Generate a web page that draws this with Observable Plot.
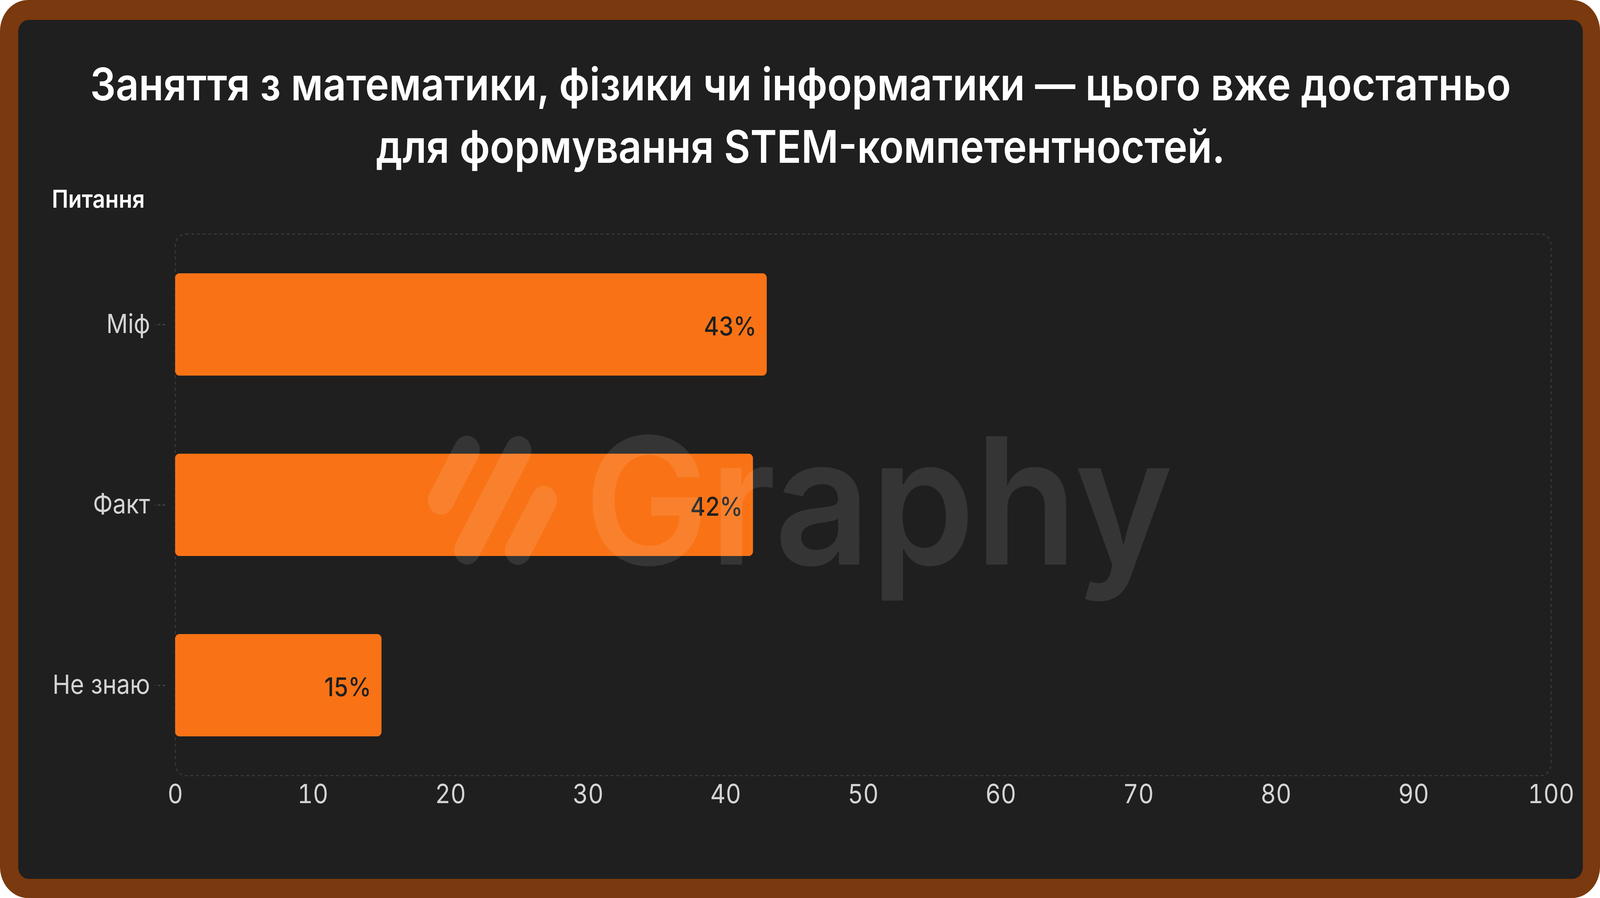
<!DOCTYPE html>
<html>
<head>
<meta charset="utf-8">
<script src="https://cdn.jsdelivr.net/npm/d3@7"></script>
<script src="https://cdn.jsdelivr.net/npm/@observablehq/plot@0.6"></script>
<style>
  html, body { margin: 0; padding: 0; background: #ffffff; overflow: hidden; }
  #page { position: absolute; left: 0; top: 0; width: 4568px; height: 2300px; background: #7A390F; border-radius: 80px; overflow: hidden; font-family: Inter, "Noto Sans", sans-serif; transform-origin: 0 0; }
  #panel { position: absolute; left: 52px; top: 51px; width: 4467px; height: 2200px; background: #1F1F1F; border-radius: 30px; }
  #title { position: absolute; left: 52px; width: 4467px; top: 136px; text-align: center; color: #ffffff; font-size: 115px; line-height: 160px; font-weight: 600; }
  #ylabel { position: absolute; left: 148px; top: 469px; color: #ffffff; font-size: 63px; font-weight: 600; line-height: 80px; }
  #chart { position: absolute; left: 0; top: 560px; }
  #wm { position: absolute; left: 0; top: 0; pointer-events: none; }
</style>
</head>
<body>
<div id="page">
  <div id="panel"></div>
  <div id="title">Заняття з математики, фізики чи інформатики — цього вже достатньо<br>для формування STEM-компетентностей.</div>
  <div id="ylabel">Питання</div>
  <div id="chart"></div>
  <svg id="wm" width="4568" height="2300">
    <g stroke="rgba(255,255,255,0.1)" stroke-width="74" stroke-linecap="round" fill="none">
      <line x1="1333" y1="1153" x2="1259" y2="1281"></line>
      <line x1="1480" y1="1154" x2="1334" y2="1409"></line>
      <line x1="1553" y1="1282" x2="1479" y2="1410"></line>
    </g>
    <text x="1668" y="1446" font-family="Inter" font-weight="600" font-size="452" fill="rgba(255,255,255,0.1)" textLength="1681" lengthAdjust="spacingAndGlyphs">Graphy</text>
  </svg>
</div>
<script>
const categories = ["Міф", "Факт", "Не знаю"];
const values = [43, 42, 15];
const xTicks = [0, 10, 20, 30, 40, 50, 60, 70, 80, 90, 100];

const data = categories.map((c, i) => ({cat: c, value: values[i]}));

const chart = Plot.plot({
  width: 4568,
  height: 1560,
  marginLeft: 500,
  marginRight: 140,
  marginTop: 39,
  marginBottom: 134,
  style: {background: "transparent", color: "#D4D4D4", fontFamily: "Inter, 'Noto Sans', sans-serif", fontSize: "68px", overflow: "visible"},
  x: {domain: [0, 100], ticks: xTicks, label: null},
  y: {domain: categories, paddingInner: 0.433, paddingOuter: 0.2165, label: null},
  marks: [
    Plot.frame({stroke: "#3A3A3A", strokeWidth: 3, strokeDasharray: "8,8", rx: 30}),
    Plot.barX(data, {x: "value", y: "cat", fill: "#F97316", rx: 12}),
    Plot.text(data, {x: "value", y: "cat", text: d => d.value + "%", textAnchor: "end", dx: -30, dy: 6, fill: "#1F1F1F", fontSize: 66, fontWeight: 500}),
    Plot.axisX({ticks: xTicks, tickSize: 0, tickPadding: 22, fontSize: 68, fill: "#D4D4D4", label: null}),
    Plot.axisY({tickSize: 30, tickPadding: 14, dx: -28, stroke: "#444444", strokeWidth: 3, strokeDasharray: "8,6", fill: "#D4D4D4", fontSize: 68, label: null})
  ]
});
document.getElementById("chart").appendChild(chart);

// fit the 4568×2300 design to the actual viewport
function fit() {
  const sx = window.innerWidth / 4568;
  const sy = window.innerHeight / 2300;
  document.getElementById("page").style.transform = `scale(${sx}, ${sy})`;
}
fit();
window.addEventListener("resize", fit);
</script>
</body>
</html>
